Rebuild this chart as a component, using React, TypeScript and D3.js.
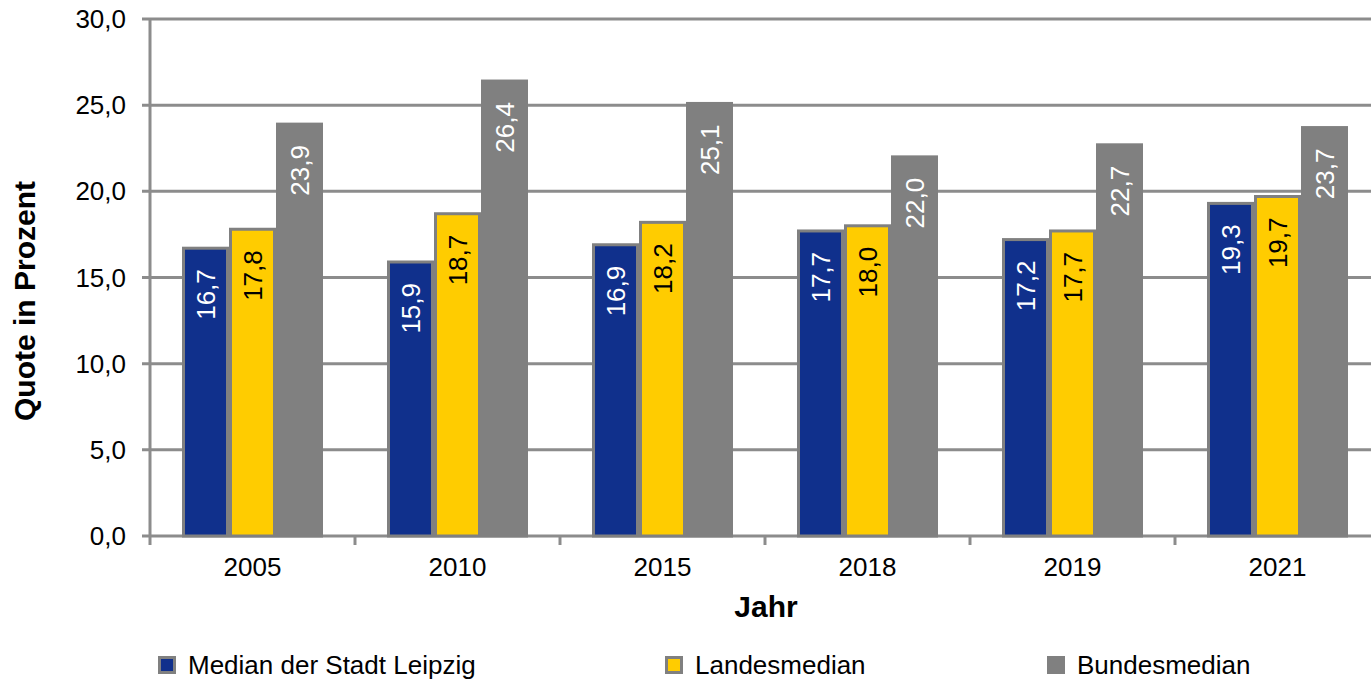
import React from "react";
import * as d3 from "d3";

const years = ["2005", "2010", "2015", "2018", "2019", "2021"];
const seriesNames = ["Median der Stadt Leipzig", "Landesmedian", "Bundesmedian"];
const leipzig = [16.7, 15.9, 16.9, 17.7, 17.2, 19.3];
const landes = [17.8, 18.7, 18.2, 18.0, 17.7, 19.7];
const bundes = [23.9, 26.4, 25.1, 22.0, 22.7, 23.7];
const yTicks = [0, 5, 10, 15, 20, 25, 30];

const colors = ["#10308C", "#FFCC00", "#808080"];
const labelColors = ["#FFFFFF", "#000000", "#FFFFFF"];
const gridColor = "#8C8C8C";
const font = "'Liberation Sans', Arial, sans-serif";

export default function App() {
  const W = 1371, H = 681;
  const left = 150, right = 1380, top = 19, bottom = 536;
  const x = d3.scaleBand<string>().domain(years).range([left, right]).paddingInner(0).paddingOuter(0);
  const y = d3.scaleLinear().domain([0, 30]).range([bottom, top]);
  const series = [leipzig, landes, bundes];
  const groupW = 141;
  const xs = d3.scaleBand<number>().domain([0, 1, 2]).range([0, groupW]).padding(0);
  const fmt = (v: number) => v.toFixed(1).replace(".", ",");
  const legendX = [158, 665, 1047];

  return (
    <div style={{ position: "fixed", left: 0, top: 0 }}>
      <svg width={W} height={H} style={{ display: "block", background: "#fff" }} fontFamily={font}>
        {yTicks.map((t) => (
          <g key={t}>
            <line x1={left - 8} x2={W} y1={y(t)} y2={y(t)} stroke={gridColor} strokeWidth={3} />
            <text x={126} y={y(t)} dy="0.35em" textAnchor="end" fontSize={26} fill="#000">
              {fmt(t)}
            </text>
          </g>
        ))}
        <line x1={left} x2={left} y1={top} y2={bottom + 9} stroke={gridColor} strokeWidth={3} />
        {years.map((yr) => {
          const xe = (x(yr) as number) + x.bandwidth();
          return <line key={yr} x1={xe} x2={xe} y1={bottom} y2={bottom + 9} stroke={gridColor} strokeWidth={3} />;
        })}
        {years.map((yr, i) => {
          const cx = (x(yr) as number) + x.bandwidth() / 2;
          const gx = cx - groupW / 2;
          return (
            <g key={yr}>
              {series.map((s, k) => {
                const bx = gx + (xs(k) as number);
                const bw = xs.bandwidth();
                const by = y(s[i]);
                return (
                  <rect key={k} x={bx + 1.5} y={by} width={bw - 3} height={bottom - by} fill={colors[k]} stroke="#808080" strokeWidth={3} />
                );
              })}
              {series.map((s, k) => {
                const bx = gx + (xs(k) as number) + xs.bandwidth() / 2;
                const by = y(s[i]);
                return (
                  <text key={"l" + k} transform={`translate(${bx},${by + 21}) rotate(-90)`} dy="0.35em" textAnchor="end" fontSize={26} fill={labelColors[k]}>
                    {fmt(s[i])}
                  </text>
                );
              })}
              <text x={cx} y={576} textAnchor="middle" fontSize={26} fill="#000">{yr}</text>
            </g>
          );
        })}
        <text x={766} y={617} textAnchor="middle" fontSize={30} fontWeight="bold" fill="#000">Jahr</text>
        <text transform={`translate(35,301) rotate(-90)`} textAnchor="middle" fontSize={30} fontWeight="bold" fill="#000">Quote in Prozent</text>
        {seriesNames.map((n, k) => {
          const lx = legendX[k];
          return (
            <g key={n}>
              <rect x={lx + 1.5} y={657.5} width={15} height={15} fill={colors[k]} stroke="#808080" strokeWidth={3} />
              <text x={lx + 30} y={674} fontSize={26} fill="#000">{n}</text>
            </g>
          );
        })}
      </svg>
    </div>
  );
}
